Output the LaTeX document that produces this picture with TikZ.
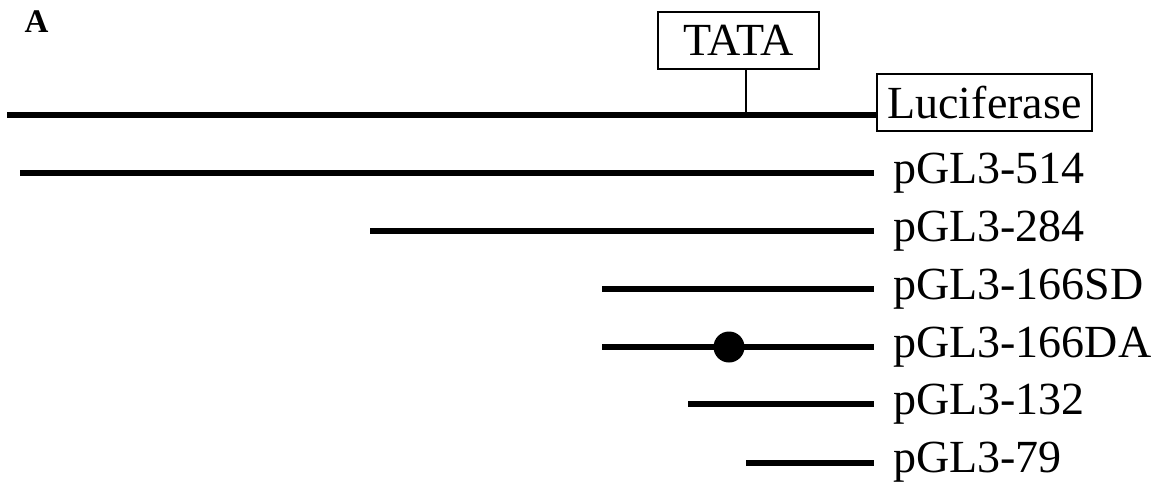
\documentclass[tikz,border=0pt]{standalone}
\usepackage{fontspec}
\setmainfont{Liberation Serif}
\begin{document}
\begin{tikzpicture}[x=1pt,y=-1pt,
  construct/.style={line width=5.5pt},
  lbl/.style={anchor=base west, inner sep=0pt, font=\fontsize{46}{50}\selectfont},
  genebox/.style={draw, line width=1.8pt, inner sep=0pt, font=\fontsize{46}{50}\selectfont},
  stem/.style={line width=1.5pt}]
\useasboundingbox (0,0) rectangle (1159,483);
\node[font=\fontsize{33}{36}\selectfont\bfseries, inner sep=0pt] (A) at (36.5,21.5) {A};
% promoter with TATA box and luciferase
\node[genebox, minimum width=215pt, minimum height=57pt] (luc) at (984.5,102.5) {Luciferase};
\node[genebox, minimum width=161pt, minimum height=57pt] (tata) at (738.5,40.5) {TATA};
\coordinate (start) at (7,115);
\coordinate (tatafoot) at (746,115);
\draw[construct] (start) -- (luc.west |- start);
\draw[stem] (tata.south -| tatafoot) -- (tatafoot);
% constructs
\coordinate (s514) at (20,173);  \coordinate (e514) at (874,173);
\coordinate (s284) at (370,231); \coordinate (e284) at (874,231);
\coordinate (ssd) at (602,289);  \coordinate (esd) at (874,289);
\coordinate (sda) at (602,347);  \coordinate (eda) at (874,347);
\coordinate (s132) at (688,404); \coordinate (e132) at (874,404);
\coordinate (s79) at (746,463);  \coordinate (e79) at (874,463);
\draw[construct] (s514) -- (e514);
\draw[construct] (s284) -- (e284);
\draw[construct] (ssd) -- (esd);
\draw[construct] (sda) -- (eda);
\draw[construct] (s132) -- (e132);
\draw[construct] (s79) -- (e79);
\node[circle, fill=black, minimum size=31pt, inner sep=0pt] (dot) at (729,347) {};
\node[lbl] (l514) at (893,183) {pGL3-514};
\node[lbl] (l284) at (893,241) {pGL3-284};
\node[lbl] (lsd) at (893,299) {pGL3-166SD};
\node[lbl] (lda) at (893,357) {pGL3-166DA};
\node[lbl] (l132) at (893,414) {pGL3-132};
\node[lbl] (l79) at (893,472) {pGL3-79};
\end{tikzpicture}
\end{document}
